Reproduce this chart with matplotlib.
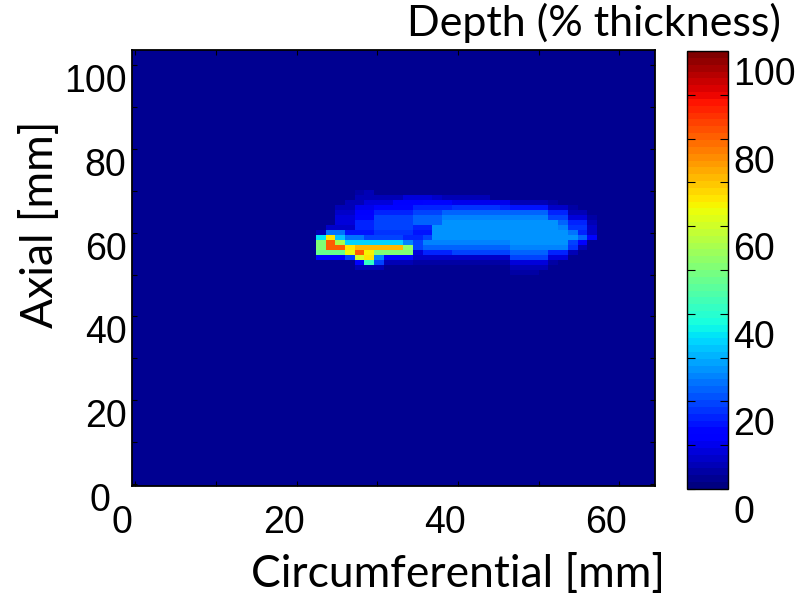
import numpy as np
import matplotlib
matplotlib.use("Agg")
import matplotlib.pyplot as plt
from matplotlib.ticker import MultipleLocator
from matplotlib.transforms import ScaledTranslation

# Wall-loss depth map (% of wall thickness), square 1.2 mm cells.
CELL_MM = 1.2
X_MIN, X_MAX = -0.4, 64.4
Y_MIN, Y_MAX = -0.7, 103.7
BACKGROUND = 2                # depth read everywhere outside the flaw patch
PATCH_LEFT_MM = 22.4          # circumferential edge of the patch's first column
PATCH_TOP_MM = 70.1           # axial edge of the patch's first (top) row

# flaw patch, top row first
PATCH = [
    [2, 2, 2, 2, 4, 5, 3, 2, 2, 2, 3, 3, 3, 2, 2, 2, 2, 2, 2, 2, 2, 2, 2, 2, 2, 2, 2, 2, 2, 2, 2],
    [2, 2, 2, 3, 6, 6, 6, 6, 5, 8, 8, 8, 7, 5, 5, 5, 5, 5, 3, 3, 2, 2, 2, 2, 2, 2, 2, 2, 2, 2, 2],
    [2, 2, 3, 5, 5, 8, 8, 8, 11, 11, 11, 14, 14, 14, 10, 10, 10, 10, 10, 10, 6, 6, 6, 6, 4, 2, 2, 2, 2, 2, 2],
    [2, 2, 5, 5, 10, 10, 14, 14, 14, 14, 17, 17, 17, 17, 18, 18, 18, 18, 18, 17, 15, 15, 15, 15, 7, 7, 4, 2, 2, 2, 2],
    [2, 2, 7, 7, 12, 12, 17, 17, 17, 17, 20, 20, 20, 23, 23, 23, 23, 23, 23, 23, 22, 22, 22, 22, 16, 16, 6, 6, 3, 2, 2],
    [2, 2, 8, 8, 14, 14, 19, 19, 19, 19, 22, 22, 22, 25, 25, 25, 25, 25, 25, 25, 25, 25, 25, 25, 20, 20, 9, 9, 4, 2, 2],
    [2, 2, 8, 8, 16, 16, 20, 20, 20, 20, 23, 23, 23, 27, 27, 27, 27, 27, 27, 27, 27, 27, 27, 27, 27, 23, 17, 17, 6, 2, 2],
    [2, 7, 7, 7, 16, 16, 20, 20, 20, 20, 17, 17, 28, 28, 28, 28, 28, 28, 28, 28, 28, 28, 28, 28, 28, 25, 18, 18, 7, 2, 2],
    [5, 24, 24, 15, 15, 15, 18, 18, 18, 18, 15, 15, 27, 27, 27, 27, 27, 27, 27, 27, 27, 27, 27, 27, 27, 27, 24, 17, 7, 2, 2],
    [35, 66, 32, 24, 24, 20, 20, 20, 20, 17, 17, 20, 28, 28, 28, 28, 28, 28, 28, 28, 28, 28, 28, 28, 28, 28, 28, 22, 13, 2, 2],
    [50, 80, 55, 33, 33, 33, 33, 33, 33, 25, 20, 25, 25, 25, 25, 25, 25, 25, 25, 25, 27, 27, 27, 27, 27, 27, 20, 11, 3, 2, 2],
    [50, 80, 80, 66, 71, 71, 71, 71, 71, 52, 19, 22, 22, 22, 22, 22, 22, 22, 22, 22, 25, 25, 25, 25, 25, 25, 18, 6, 2, 2, 2],
    [48, 48, 48, 64, 80, 65, 50, 50, 50, 50, 9, 16, 16, 16, 19, 19, 19, 19, 19, 19, 22, 22, 22, 22, 16, 16, 6, 2, 2, 2, 2],
    [13, 13, 13, 20, 60, 66, 25, 13, 13, 13, 7, 7, 7, 7, 7, 7, 7, 7, 7, 7, 20, 20, 20, 20, 9, 9, 3, 2, 2, 2, 2],
    [3, 3, 3, 3, 12, 42, 19, 5, 5, 5, 4, 4, 4, 4, 4, 4, 4, 4, 4, 4, 8, 8, 8, 8, 4, 2, 2, 2, 2, 2, 2],
    [2, 2, 2, 2, 6, 6, 6, 2, 2, 2, 2, 2, 2, 2, 2, 2, 2, 2, 2, 2, 6, 6, 6, 6, 2, 2, 2, 2, 2, 2, 2],
    [2, 2, 2, 2, 2, 2, 2, 2, 2, 2, 2, 2, 2, 2, 2, 2, 2, 2, 2, 2, 4, 4, 4, 2, 2, 2, 2, 2, 2, 2, 2],
    [2, 2, 2, 2, 2, 2, 2, 2, 2, 2, 2, 2, 2, 2, 2, 2, 2, 2, 2, 2, 2, 2, 2, 2, 2, 2, 2, 2, 2, 2, 2],
]

X_TICKS = [0, 20, 40, 60]
Y_TICKS = [0, 20, 40, 60, 80, 100]
CB_TICKS = [0, 20, 40, 60, 80, 100]

TICK_FONT = "Liberation Sans"
LABEL_FONT = "Lato"

# assemble the full map
n_cols = int(round((X_MAX - X_MIN) / CELL_MM))
n_rows = int(round((Y_MAX - Y_MIN) / CELL_MM))
depth = np.full((n_rows, n_cols), float(BACKGROUND))
patch = np.array(PATCH, dtype=float)[::-1]
c0 = int(round((PATCH_LEFT_MM - X_MIN) / CELL_MM))
r1 = int(round((PATCH_TOP_MM - Y_MIN) / CELL_MM))
depth[r1 - patch.shape[0]:r1, c0:c0 + patch.shape[1]] = patch

fig = plt.figure(figsize=(8.08, 5.98), dpi=100)
ax = fig.add_axes([0.1634, 0.1865, 0.6472, 0.7299])
cax = fig.add_axes([0.8502, 0.1823, 0.0508, 0.7324])

cmap = plt.get_cmap("jet", 64)
im = ax.imshow(depth, origin="lower", extent=(X_MIN, X_MAX, Y_MIN, Y_MAX),
               aspect="auto", cmap=cmap, vmin=0, vmax=100, interpolation="nearest")
ax.set_xlim(X_MIN, X_MAX)
ax.set_ylim(Y_MIN, Y_MAX)

ax.set_xticks(X_TICKS)
ax.set_yticks(Y_TICKS)
ax.xaxis.set_minor_locator(MultipleLocator(10))
ax.yaxis.set_minor_locator(MultipleLocator(10))
ax.tick_params(which="both", direction="in", top=True, right=True,
               length=3.5, width=0.8, color="black")
ax.tick_params(axis="x", pad=13)
ax.tick_params(axis="y", pad=4)
for lab in ax.get_xticklabels() + ax.get_yticklabels():
    lab.set_fontfamily(TICK_FONT)
    lab.set_fontsize(27)
for sp in ax.spines.values():
    sp.set_linewidth(1.3)

ax.set_xlabel("Circumferential [mm]", fontfamily=LABEL_FONT, fontsize=32)
ax.set_ylabel("Axial [mm]", fontfamily=LABEL_FONT, fontsize=32)
ax.xaxis.set_label_coords(0.623, -0.155)
ax.yaxis.set_label_coords(-0.135, 0.60)

cb = fig.colorbar(im, cax=cax)
cb.set_ticks(CB_TICKS)
cax.yaxis.set_minor_locator(MultipleLocator(10))
cax.tick_params(which="both", direction="in", left=True, right=True,
                length=6, width=0.8, pad=4)
for lab in cax.get_yticklabels():
    lab.set_fontfamily(TICK_FONT)
    lab.set_fontsize(27)
cb.outline.set_linewidth(1.0)

fig.text(0.735, 0.962, "Depth (% thickness)", ha="center", va="center",
         fontfamily=LABEL_FONT, fontsize=31)

# tick labels sit a little off their ticks in the original figure
shift_x = ScaledTranslation(-13 / 100, 0, fig.dpi_scale_trans)
shift_y = ScaledTranslation(0, -13 / 100, fig.dpi_scale_trans)
shift_cb = ScaledTranslation(0, -20 / 100, fig.dpi_scale_trans)
for t in ax.xaxis.get_major_ticks():
    t.label1.set_transform(t.label1.get_transform() + shift_x)
for i, t in enumerate(ax.yaxis.get_major_ticks()):
    dx = -16 / 100 if i == 0 else 0
    t.label1.set_transform(t.label1.get_transform() + shift_y
                           + ScaledTranslation(dx, 0, fig.dpi_scale_trans))
for t in cax.yaxis.get_major_ticks():
    t.label2.set_transform(t.label2.get_transform() + shift_cb)

fig.savefig("out.png", dpi=100)
